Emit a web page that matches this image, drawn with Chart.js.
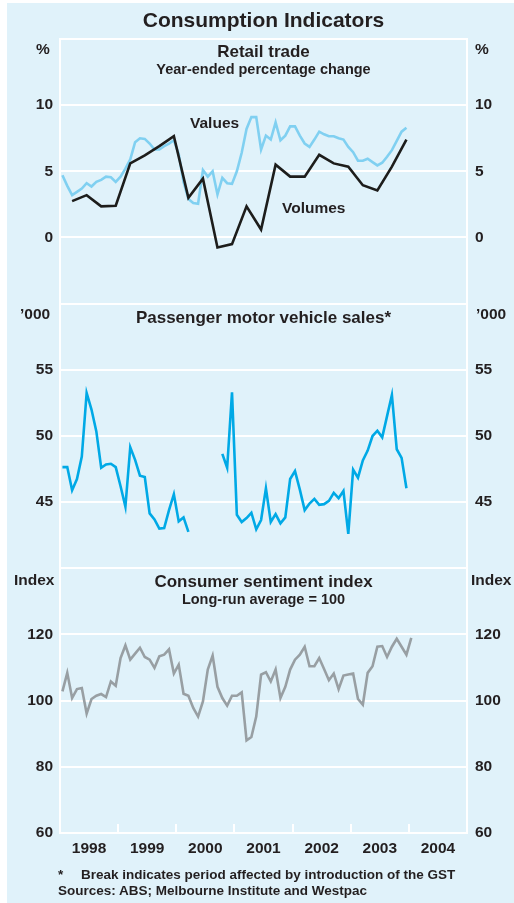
<!DOCTYPE html>
<html>
<head>
<meta charset="utf-8">
<script src="https://cdn.jsdelivr.net/npm/chart.js@4.4.1/dist/chart.umd.min.js"></script>
<style>
  html, body { margin: 0; padding: 0; background: #fff; }
  body { width: 514px; height: 903px; position: relative; overflow: hidden;
         font-family: "Liberation Sans", Arial, sans-serif; font-weight: bold; color: #231f20; }
  #panel { position: absolute; left: 7px; top: 3px; width: 507px; height: 900px; background: #e0f2fa; }
  #chart { position: absolute; left: 0; top: 0; }
  .t { position: absolute; white-space: nowrap; line-height: 1; }
  .c { left: 60px; width: 407px; text-align: center; }
  .u { font-size: 15.5px; }
</style>
</head>
<body>
<div id="panel"></div>
<canvas id="chart" width="514" height="903"></canvas>

<div class="t c" style="top:9px;font-size:21px">Consumption Indicators</div>

<div class="t c" style="top:43px;font-size:17px">Retail trade</div>
<div class="t c" style="top:62px;font-size:14.5px">Year-ended percentage change</div>
<div class="t u" style="left:36px;top:41px">%</div>
<div class="t u" style="left:475px;top:41px">%</div>
<div class="t u" style="left:190px;top:115px">Values</div>
<div class="t u" style="left:282px;top:200px">Volumes</div>

<div class="t c" style="top:309px;font-size:17px">Passenger motor vehicle sales*</div>
<div class="t u" style="left:20px;top:306px">’000</div>
<div class="t u" style="left:476px;top:306px">’000</div>

<div class="t c" style="top:573px;font-size:17px">Consumer sentiment index</div>
<div class="t c" style="top:592px;font-size:14.5px">Long-run average = 100</div>
<div class="t u" style="left:14px;top:572px">Index</div>
<div class="t u" style="left:471px;top:572px">Index</div>

<div class="t" style="left:58px;top:868px;font-size:13.5px">*</div>
<div class="t" style="left:81px;top:868px;font-size:13.5px">Break indicates period affected by introduction of the GST</div>
<div class="t" style="left:58px;top:884px;font-size:13.5px">Sources: ABS; Melbourne Institute and Westpac</div>

<script>
// Retail trade, year-ended % change (monthly values from Jan 1998)
const retailValues = [
  4.7, 3.9, 3.2, 3.45, 3.7, 4.1, 3.85, 4.2, 4.35, 4.6, 4.55, 4.2,
  4.6, 5.2, 5.9, 7.2, 7.5, 7.45, 7.1, 6.65, 6.65, 6.9, 7.1, 7.35,
  6.3, 4.2, 2.9, 2.6, 2.55, 5.1, 4.6, 5.0, 3.25, 4.5, 4.1, 4.05,
  5.0, 6.4, 8.2, 9.1, 9.1, 6.65, 7.7, 7.4, 8.7, 7.35, 7.7, 8.4,
  8.4, 7.7, 7.1, 6.85, 7.4, 8.0, 7.8, 7.65, 7.65, 7.5, 7.4, 6.85,
  6.45, 5.8, 5.8, 5.95, 5.7, 5.45, 5.65, 6.1, 6.6, 7.3, 8.0, 8.3
];
// Retail trade volumes (quarterly, Mar qtr 1998 onwards)
const retailVolumes = [
  2.75, 3.2, 2.35, 2.4, 5.6, 6.2, 6.9, 7.65,
  3.0, 4.45, -0.75, -0.5, 2.35, 0.6, 5.5, 4.6,
  4.6, 6.25, 5.6, 5.35, 3.95, 3.55, 5.35, 7.4
];
// Passenger motor vehicle sales, '000 (null = GST break)
const vehicleSales = [
  47.65, 47.65, 45.9, 46.75, 48.45, 53.25, 52.0, 50.35, 47.6, 47.85, 47.9, 47.65,
  46.2, 44.65, 49.15, 48.2, 47.0, 46.9, 44.15, 43.7, 43.0, 43.05, 44.4, 45.6,
  43.55, 43.85, 42.75, null, null, null, null, null, null, 48.65, 47.6, 53.3,
  44.05, 43.5, 43.8, 44.2, 42.95, 43.65, 46.05, 43.5, 44.1, 43.4, 43.85, 46.75,
  47.35, 45.95, 44.4, 44.9, 45.25, 44.8, 44.85, 45.1, 45.7, 45.3, 45.85, 42.6,
  47.45, 46.85, 48.15, 48.9, 50.0, 50.4, 49.9, 51.5, 53.1, 49.0, 48.35, 46.05
];
// Consumer sentiment index (monthly, long-run average = 100)
const sentiment = [
  102.8, 108.4, 100.8, 103.5, 103.8, 96.1, 100.5, 101.5, 102.0, 101.1, 105.8, 104.5,
  112.9, 116.7, 112.4, 114.2, 116.0, 113.2, 112.4, 109.9, 113.4, 113.9, 115.5, 108.2,
  110.9, 102.1, 101.5, 97.8, 95.2, 99.8, 109.4, 113.6, 104.2, 100.8, 98.5, 101.5,
  101.5, 102.5, 88.0, 89.0, 95.2, 107.9, 108.6, 105.8, 109.4, 100.8, 104.2, 109.4,
  112.4, 113.9, 116.3, 110.4, 110.4, 112.9, 109.6, 106.2, 108.2, 103.5, 107.6, 107.9,
  108.2, 100.5, 98.8, 108.4, 110.4, 116.3, 116.5, 113.2, 116.3, 118.7, 116.3, 113.9,
  119.0
];
const years = ['1998', '1999', '2000', '2001', '2002', '2003', '2004'];

// x axis is months since Jan 1998
const monthly = arr => arr.map((v, i) => ({x: i + 0.5, y: v}));
const quarterly = arr => arr.map((v, i) => ({x: i * 3 + 2.5, y: v}));

const white = '#ffffff';
const textColor = '#231f20';
const tickFont = {family: '"Liberation Sans", Arial, sans-serif', size: 15.5, weight: 'bold'};

// stacked panels: left axes sort high weight first, right axes low weight first
function yAxis(pos, min, max, step, weight, showMin) {
  return {
    type: 'linear',
    position: pos,
    stack: pos,
    stackWeight: 1,
    weight: weight,
    min: min,
    max: max,
    border: {display: true, color: white, width: 2},
    grid: {display: pos === 'left', color: white, lineWidth: 2, drawTicks: false},
    ticks: {
      stepSize: step,
      padding: pos === 'left' ? 7 : 8,
      color: textColor,
      font: tickFont,
      callback: v => (v === max || (v === min && !showMin)) ? '' : v
    },
    afterFit: s => { s.width = pos === 'left' ? 60 : 47; }
  };
}

function line(data, axis, color, order) {
  return {
    data: data,
    yAxisID: axis,
    borderColor: color,
    borderWidth: 2.6,
    pointRadius: 0,
    tension: 0,
    spanGaps: false,
    order: order
  };
}

new Chart(document.getElementById('chart').getContext('2d'), {
  type: 'line',
  data: {
    datasets: [
      line(quarterly(retailVolumes), 'yR', '#1d1d1b', 0),
      line(monthly(retailValues), 'yR', '#80d0f1', 1),
      line(monthly(vehicleSales), 'yC', '#00a9e6', 2),
      line(monthly(sentiment), 'yS', '#989fa3', 3)
    ]
  },
  options: {
    responsive: false,
    animation: false,
    events: [],
    layout: {padding: {top: 39, left: 0, right: 0, bottom: 0}},
    plugins: {legend: {display: false}, tooltip: {enabled: false}},
    scales: {
      x: {
        type: 'linear',
        position: 'bottom',
        min: 0,
        max: 84,
        afterBuildTicks: s => { s.ticks = years.map((y, i) => ({value: i * 12 + 6})); },
        afterFit: s => { s.height = 70; },
        border: {display: false},
        grid: {offset: true, drawOnChartArea: false, drawTicks: true, tickLength: -9, color: white, lineWidth: 2},
        ticks: {autoSkip: false, maxRotation: 0, padding: 15, color: textColor, font: tickFont,
                callback: (v, i) => years[i]}
      },
      yR: yAxis('left', -5, 15, 5, 3, false),
      yC: yAxis('left', 40, 60, 5, 2, false),
      yS: yAxis('left', 60, 140, 20, 1, true),
      yR2: yAxis('right', -5, 15, 5, 1, false),
      yC2: yAxis('right', 40, 60, 5, 2, false),
      yS2: yAxis('right', 60, 140, 20, 3, true)
    }
  }
});
</script>
</body>
</html>
